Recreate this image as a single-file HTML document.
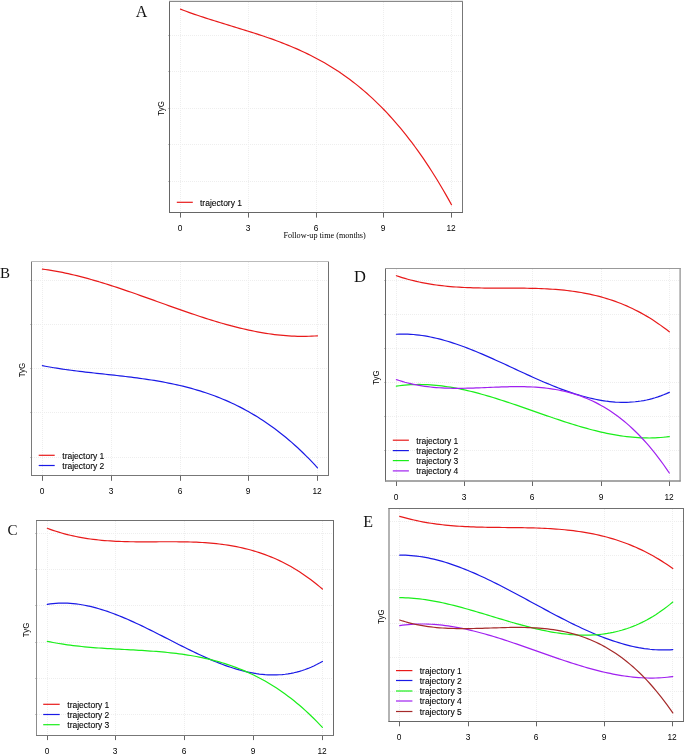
<!DOCTYPE html>
<html><head><meta charset="utf-8"><style>
html,body{margin:0;padding:0;background:#fff;}
body{width:685px;height:755px;overflow:hidden;}
svg{display:block;}
.gr{stroke:#eeeeee;stroke-width:1;stroke-dasharray:1 1;fill:none;}
.ax{stroke:#666;stroke-width:1;}
.yt{stroke:#c4c4c4;stroke-width:1;}
.bx{fill:none;stroke:#666;stroke-width:1;}
.cv{fill:none;stroke-width:1.2;stroke-linecap:round;stroke-linejoin:round;}
.tk{font-family:"Liberation Sans",sans-serif;font-size:8.4px;text-anchor:middle;fill:#000;}
.lg{font-family:"Liberation Sans",sans-serif;font-size:8.5px;fill:#000;stroke:#000;stroke-width:0.1px;}
.ty{font-family:"Liberation Sans",sans-serif;font-size:8px;text-anchor:middle;fill:#000;}
.pl{font-family:"Liberation Serif",serif;fill:#111;}
.xl{font-family:"Liberation Serif",serif;font-size:8.2px;text-anchor:middle;fill:#000;}
</style></head><body>
<svg width="685" height="755" viewBox="0 0 685 755">
<line x1="170" y1="35.5" x2="462" y2="35.5" class="gr"/>
<line x1="168" y1="35.5" x2="169.5" y2="35.5" class="yt"/>
<line x1="170" y1="71.5" x2="462" y2="71.5" class="gr"/>
<line x1="168" y1="71.5" x2="169.5" y2="71.5" class="yt"/>
<line x1="170" y1="108.5" x2="462" y2="108.5" class="gr"/>
<line x1="168" y1="108.5" x2="169.5" y2="108.5" class="yt"/>
<line x1="170" y1="144.5" x2="462" y2="144.5" class="gr"/>
<line x1="168" y1="144.5" x2="169.5" y2="144.5" class="yt"/>
<line x1="170" y1="181.5" x2="462" y2="181.5" class="gr"/>
<line x1="168" y1="181.5" x2="169.5" y2="181.5" class="yt"/>
<line x1="180.5" y1="2" x2="180.5" y2="212" class="gr"/>
<line x1="180.5" y1="212.5" x2="180.5" y2="217.6" class="ax"/>
<line x1="248.5" y1="2" x2="248.5" y2="212" class="gr"/>
<line x1="248.5" y1="212.5" x2="248.5" y2="217.6" class="ax"/>
<line x1="316.5" y1="2" x2="316.5" y2="212" class="gr"/>
<line x1="316.5" y1="212.5" x2="316.5" y2="217.6" class="ax"/>
<line x1="383.5" y1="2" x2="383.5" y2="212" class="gr"/>
<line x1="383.5" y1="212.5" x2="383.5" y2="217.6" class="ax"/>
<line x1="451.5" y1="2" x2="451.5" y2="212" class="gr"/>
<line x1="451.5" y1="212.5" x2="451.5" y2="217.6" class="ax"/>
<path d="M180.5,9.16 L183.32,10.24 L186.15,11.29 L188.97,12.32 L191.79,13.32 L194.61,14.31 L197.44,15.28 L200.26,16.23 L203.08,17.17 L205.91,18.09 L208.73,19 L211.55,19.9 L214.38,20.79 L217.2,21.67 L220.02,22.55 L222.84,23.41 L225.67,24.28 L228.49,25.14 L231.31,26 L234.14,26.86 L236.96,27.72 L239.78,28.59 L242.6,29.45 L245.43,30.33 L248.25,31.21 L251.07,32.1 L253.9,33 L256.72,33.91 L259.54,34.83 L262.36,35.77 L265.19,36.73 L268.01,37.7 L270.83,38.69 L273.66,39.69 L276.48,40.72 L279.3,41.78 L282.12,42.85 L284.95,43.95 L287.77,45.08 L290.59,46.24 L293.42,47.43 L296.24,48.65 L299.06,49.9 L301.89,51.18 L304.71,52.5 L307.53,53.85 L310.35,55.25 L313.18,56.68 L316,58.16 L318.82,59.67 L321.65,61.24 L324.47,62.84 L327.29,64.49 L330.11,66.19 L332.94,67.94 L335.76,69.74 L338.58,71.6 L341.41,73.5 L344.23,75.47 L347.05,77.48 L349.88,79.56 L352.7,81.69 L355.52,83.89 L358.34,86.15 L361.17,88.47 L363.99,90.85 L366.81,93.31 L369.64,95.83 L372.46,98.42 L375.28,101.08 L378.1,103.81 L380.93,106.61 L383.75,109.49 L386.57,112.45 L389.4,115.48 L392.22,118.59 L395.04,121.79 L397.86,125.06 L400.69,128.42 L403.51,131.86 L406.33,135.39 L409.16,139.01 L411.98,142.71 L414.8,146.51 L417.62,150.4 L420.45,154.38 L423.27,158.45 L426.09,162.62 L428.92,166.89 L431.74,171.25 L434.56,175.72 L437.39,180.29 L440.21,184.96 L443.03,189.74 L445.85,194.62 L448.68,199.6 L451.5,204.7" stroke="#E81A1A" class="cv"/>
<line x1="176.8" y1="202.3" x2="192.8" y2="202.3" stroke="#E81A1A" class="cv" style="stroke-linecap:butt"/>
<line x1="169.5" y1="1" x2="169.5" y2="213" stroke="#666" stroke-width="1"/>
<line x1="462.5" y1="1" x2="462.5" y2="213" stroke="#777" stroke-width="1"/>
<line x1="169" y1="1.5" x2="463" y2="1.5" stroke="#8a8a8a" stroke-width="1"/>
<line x1="169" y1="212.5" x2="463" y2="212.5" stroke="#666" stroke-width="1"/>
<line x1="32" y1="280.5" x2="328" y2="280.5" class="gr"/>
<line x1="30" y1="280.5" x2="31.5" y2="280.5" class="yt"/>
<line x1="32" y1="324.5" x2="328" y2="324.5" class="gr"/>
<line x1="30" y1="324.5" x2="31.5" y2="324.5" class="yt"/>
<line x1="32" y1="368.5" x2="328" y2="368.5" class="gr"/>
<line x1="30" y1="368.5" x2="31.5" y2="368.5" class="yt"/>
<line x1="32" y1="412.5" x2="328" y2="412.5" class="gr"/>
<line x1="30" y1="412.5" x2="31.5" y2="412.5" class="yt"/>
<line x1="32" y1="457.5" x2="328" y2="457.5" class="gr"/>
<line x1="30" y1="457.5" x2="31.5" y2="457.5" class="yt"/>
<line x1="42.5" y1="262" x2="42.5" y2="475" class="gr"/>
<line x1="42.5" y1="475.5" x2="42.5" y2="480.8" class="ax"/>
<line x1="111.5" y1="262" x2="111.5" y2="475" class="gr"/>
<line x1="111.5" y1="475.5" x2="111.5" y2="480.8" class="ax"/>
<line x1="180.5" y1="262" x2="180.5" y2="475" class="gr"/>
<line x1="180.5" y1="475.5" x2="180.5" y2="480.8" class="ax"/>
<line x1="248.5" y1="262" x2="248.5" y2="475" class="gr"/>
<line x1="248.5" y1="475.5" x2="248.5" y2="480.8" class="ax"/>
<line x1="317.5" y1="262" x2="317.5" y2="475" class="gr"/>
<line x1="317.5" y1="475.5" x2="317.5" y2="480.8" class="ax"/>
<path d="M42.4,269.09 L45.27,269.48 L48.13,269.9 L51,270.35 L53.86,270.84 L56.73,271.35 L59.59,271.89 L62.46,272.46 L65.33,273.05 L68.19,273.67 L71.06,274.32 L73.92,274.99 L76.79,275.69 L79.65,276.4 L82.52,277.14 L85.38,277.9 L88.25,278.68 L91.12,279.48 L93.98,280.3 L96.85,281.14 L99.71,282 L102.58,282.87 L105.44,283.75 L108.31,284.66 L111.18,285.57 L114.04,286.5 L116.91,287.44 L119.77,288.39 L122.64,289.35 L125.5,290.33 L128.37,291.31 L131.23,292.3 L134.1,293.3 L136.97,294.3 L139.83,295.31 L142.7,296.33 L145.56,297.35 L148.43,298.37 L151.29,299.4 L154.16,300.42 L157.03,301.45 L159.89,302.48 L162.76,303.51 L165.62,304.54 L168.49,305.56 L171.35,306.58 L174.22,307.6 L177.08,308.61 L179.95,309.62 L182.82,310.62 L185.68,311.62 L188.55,312.6 L191.41,313.58 L194.28,314.55 L197.14,315.51 L200.01,316.46 L202.88,317.39 L205.74,318.31 L208.61,319.22 L211.47,320.12 L214.34,321 L217.2,321.86 L220.07,322.71 L222.93,323.54 L225.8,324.35 L228.67,325.14 L231.53,325.91 L234.4,326.66 L237.26,327.39 L240.13,328.1 L242.99,328.78 L245.86,329.44 L248.73,330.08 L251.59,330.69 L254.46,331.27 L257.32,331.83 L260.19,332.36 L263.05,332.85 L265.92,333.32 L268.78,333.76 L271.65,334.17 L274.52,334.55 L277.38,334.89 L280.25,335.2 L283.11,335.47 L285.98,335.71 L288.84,335.92 L291.71,336.08 L294.58,336.21 L297.44,336.3 L300.31,336.35 L303.17,336.36 L306.04,336.33 L308.9,336.26 L311.77,336.14 L314.63,335.99 L317.5,335.78" stroke="#E81A1A" class="cv"/>
<path d="M42.4,365.71 L45.27,366.25 L48.13,366.77 L51,367.26 L53.86,367.74 L56.73,368.2 L59.59,368.64 L62.46,369.07 L65.33,369.48 L68.19,369.88 L71.06,370.26 L73.92,370.64 L76.79,371 L79.65,371.35 L82.52,371.7 L85.38,372.03 L88.25,372.36 L91.12,372.69 L93.98,373.01 L96.85,373.32 L99.71,373.64 L102.58,373.95 L105.44,374.26 L108.31,374.57 L111.18,374.88 L114.04,375.2 L116.91,375.52 L119.77,375.84 L122.64,376.17 L125.5,376.51 L128.37,376.85 L131.23,377.21 L134.1,377.57 L136.97,377.94 L139.83,378.33 L142.7,378.72 L145.56,379.14 L148.43,379.56 L151.29,380 L154.16,380.46 L157.03,380.94 L159.89,381.43 L162.76,381.95 L165.62,382.49 L168.49,383.05 L171.35,383.63 L174.22,384.23 L177.08,384.86 L179.95,385.52 L182.82,386.2 L185.68,386.92 L188.55,387.66 L191.41,388.43 L194.28,389.23 L197.14,390.07 L200.01,390.94 L202.88,391.84 L205.74,392.78 L208.61,393.75 L211.47,394.76 L214.34,395.81 L217.2,396.9 L220.07,398.03 L222.93,399.2 L225.8,400.42 L228.67,401.67 L231.53,402.98 L234.4,404.32 L237.26,405.72 L240.13,407.16 L242.99,408.65 L245.86,410.19 L248.73,411.78 L251.59,413.42 L254.46,415.12 L257.32,416.86 L260.19,418.67 L263.05,420.53 L265.92,422.44 L268.78,424.42 L271.65,426.45 L274.52,428.54 L277.38,430.69 L280.25,432.91 L283.11,435.19 L285.98,437.53 L288.84,439.94 L291.71,442.41 L294.58,444.95 L297.44,447.56 L300.31,450.24 L303.17,452.99 L306.04,455.81 L308.9,458.7 L311.77,461.66 L314.63,464.7 L317.5,467.81" stroke="#1A1AE6" class="cv"/>
<line x1="38.7" y1="455.3" x2="54.7" y2="455.3" stroke="#E81A1A" class="cv" style="stroke-linecap:butt"/>
<line x1="38.7" y1="465.5" x2="54.7" y2="465.5" stroke="#1A1AE6" class="cv" style="stroke-linecap:butt"/>
<line x1="31.5" y1="261" x2="31.5" y2="476" stroke="#7a7a7a" stroke-width="1"/>
<line x1="328.5" y1="261" x2="328.5" y2="476" stroke="#707070" stroke-width="1"/>
<line x1="31" y1="261.5" x2="329" y2="261.5" stroke="#bbb" stroke-width="1"/>
<line x1="31" y1="475.5" x2="329" y2="475.5" stroke="#777" stroke-width="1"/>
<line x1="37" y1="533.5" x2="333" y2="533.5" class="gr"/>
<line x1="35" y1="533.5" x2="36.5" y2="533.5" class="yt"/>
<line x1="37" y1="569.5" x2="333" y2="569.5" class="gr"/>
<line x1="35" y1="569.5" x2="36.5" y2="569.5" class="yt"/>
<line x1="37" y1="605.5" x2="333" y2="605.5" class="gr"/>
<line x1="35" y1="605.5" x2="36.5" y2="605.5" class="yt"/>
<line x1="37" y1="642.5" x2="333" y2="642.5" class="gr"/>
<line x1="35" y1="642.5" x2="36.5" y2="642.5" class="yt"/>
<line x1="37" y1="678.5" x2="333" y2="678.5" class="gr"/>
<line x1="35" y1="678.5" x2="36.5" y2="678.5" class="yt"/>
<line x1="37" y1="714.5" x2="333" y2="714.5" class="gr"/>
<line x1="35" y1="714.5" x2="36.5" y2="714.5" class="yt"/>
<line x1="47.5" y1="521" x2="47.5" y2="735" class="gr"/>
<line x1="47.5" y1="735.5" x2="47.5" y2="740.1" class="ax"/>
<line x1="115.5" y1="521" x2="115.5" y2="735" class="gr"/>
<line x1="115.5" y1="735.5" x2="115.5" y2="740.1" class="ax"/>
<line x1="184.5" y1="521" x2="184.5" y2="735" class="gr"/>
<line x1="184.5" y1="735.5" x2="184.5" y2="740.1" class="ax"/>
<line x1="253.5" y1="521" x2="253.5" y2="735" class="gr"/>
<line x1="253.5" y1="735.5" x2="253.5" y2="740.1" class="ax"/>
<line x1="322.5" y1="521" x2="322.5" y2="735" class="gr"/>
<line x1="322.5" y1="735.5" x2="322.5" y2="740.1" class="ax"/>
<path d="M47.3,528.27 L50.17,529.33 L53.03,530.33 L55.9,531.29 L58.76,532.18 L61.63,533.03 L64.49,533.82 L67.36,534.57 L70.22,535.27 L73.09,535.92 L75.96,536.53 L78.82,537.1 L81.69,537.63 L84.55,538.11 L87.42,538.56 L90.28,538.97 L93.15,539.35 L96.02,539.69 L98.88,540 L101.75,540.28 L104.61,540.53 L107.48,540.76 L110.34,540.95 L113.21,541.13 L116.07,541.28 L118.94,541.4 L121.81,541.51 L124.67,541.6 L127.54,541.67 L130.4,541.73 L133.27,541.77 L136.13,541.8 L139,541.82 L141.87,541.83 L144.73,541.83 L147.6,541.83 L150.46,541.82 L153.33,541.81 L156.19,541.79 L159.06,541.77 L161.92,541.76 L164.79,541.75 L167.66,541.74 L170.52,541.74 L173.39,541.74 L176.25,541.75 L179.12,541.78 L181.98,541.81 L184.85,541.86 L187.72,541.92 L190.58,542 L193.45,542.1 L196.31,542.21 L199.18,542.35 L202.04,542.51 L204.91,542.69 L207.77,542.89 L210.64,543.13 L213.51,543.39 L216.37,543.68 L219.24,544 L222.1,544.36 L224.97,544.75 L227.83,545.17 L230.7,545.63 L233.57,546.14 L236.43,546.68 L239.3,547.26 L242.16,547.89 L245.03,548.56 L247.89,549.27 L250.76,550.04 L253.62,550.85 L256.49,551.72 L259.36,552.63 L262.22,553.6 L265.09,554.63 L267.95,555.71 L270.82,556.85 L273.68,558.06 L276.55,559.32 L279.42,560.64 L282.28,562.03 L285.15,563.49 L288.01,565.01 L290.88,566.6 L293.74,568.26 L296.61,570 L299.47,571.8 L302.34,573.69 L305.21,575.64 L308.07,577.68 L310.94,579.8 L313.8,581.99 L316.67,584.27 L319.53,586.63 L322.4,589.08" stroke="#E81A1A" class="cv"/>
<path d="M47.3,604.3 L50.17,603.89 L53.03,603.56 L55.9,603.32 L58.76,603.17 L61.63,603.09 L64.49,603.1 L67.36,603.19 L70.22,603.36 L73.09,603.59 L75.96,603.9 L78.82,604.28 L81.69,604.73 L84.55,605.24 L87.42,605.82 L90.28,606.46 L93.15,607.15 L96.02,607.91 L98.88,608.71 L101.75,609.57 L104.61,610.48 L107.48,611.44 L110.34,612.45 L113.21,613.49 L116.07,614.58 L118.94,615.71 L121.81,616.88 L124.67,618.08 L127.54,619.31 L130.4,620.58 L133.27,621.87 L136.13,623.19 L139,624.54 L141.87,625.9 L144.73,627.29 L147.6,628.69 L150.46,630.11 L153.33,631.54 L156.19,632.98 L159.06,634.44 L161.92,635.9 L164.79,637.36 L167.66,638.83 L170.52,640.29 L173.39,641.76 L176.25,643.22 L179.12,644.67 L181.98,646.12 L184.85,647.55 L187.72,648.97 L190.58,650.38 L193.45,651.77 L196.31,653.14 L199.18,654.49 L202.04,655.82 L204.91,657.12 L207.77,658.39 L210.64,659.63 L213.51,660.84 L216.37,662.02 L219.24,663.16 L222.1,664.26 L224.97,665.32 L227.83,666.33 L230.7,667.3 L233.57,668.23 L236.43,669.1 L239.3,669.92 L242.16,670.69 L245.03,671.4 L247.89,672.05 L250.76,672.64 L253.62,673.17 L256.49,673.64 L259.36,674.04 L262.22,674.36 L265.09,674.62 L267.95,674.81 L270.82,674.91 L273.68,674.94 L276.55,674.89 L279.42,674.76 L282.28,674.54 L285.15,674.24 L288.01,673.85 L290.88,673.36 L293.74,672.79 L296.61,672.12 L299.47,671.35 L302.34,670.48 L305.21,669.51 L308.07,668.43 L310.94,667.25 L313.8,665.96 L316.67,664.56 L319.53,663.05 L322.4,661.42" stroke="#1A1AE6" class="cv"/>
<path d="M47.3,641.35 L50.17,641.93 L53.03,642.49 L55.9,643.01 L58.76,643.5 L61.63,643.96 L64.49,644.4 L67.36,644.81 L70.22,645.2 L73.09,645.56 L75.96,645.9 L78.82,646.22 L81.69,646.52 L84.55,646.81 L87.42,647.07 L90.28,647.32 L93.15,647.55 L96.02,647.78 L98.88,647.98 L101.75,648.18 L104.61,648.37 L107.48,648.55 L110.34,648.72 L113.21,648.88 L116.07,649.05 L118.94,649.2 L121.81,649.36 L124.67,649.51 L127.54,649.66 L130.4,649.82 L133.27,649.97 L136.13,650.13 L139,650.3 L141.87,650.47 L144.73,650.65 L147.6,650.84 L150.46,651.04 L153.33,651.24 L156.19,651.47 L159.06,651.7 L161.92,651.95 L164.79,652.21 L167.66,652.5 L170.52,652.8 L173.39,653.12 L176.25,653.46 L179.12,653.82 L181.98,654.21 L184.85,654.62 L187.72,655.06 L190.58,655.52 L193.45,656.01 L196.31,656.53 L199.18,657.09 L202.04,657.67 L204.91,658.29 L207.77,658.94 L210.64,659.63 L213.51,660.35 L216.37,661.12 L219.24,661.92 L222.1,662.76 L224.97,663.64 L227.83,664.57 L230.7,665.54 L233.57,666.56 L236.43,667.62 L239.3,668.74 L242.16,669.9 L245.03,671.11 L247.89,672.37 L250.76,673.68 L253.62,675.05 L256.49,676.48 L259.36,677.96 L262.22,679.5 L265.09,681.1 L267.95,682.76 L270.82,684.47 L273.68,686.26 L276.55,688.1 L279.42,690.01 L282.28,691.99 L285.15,694.04 L288.01,696.15 L290.88,698.34 L293.74,700.59 L296.61,702.92 L299.47,705.32 L302.34,707.8 L305.21,710.35 L308.07,712.98 L310.94,715.69 L313.8,718.48 L316.67,721.34 L319.53,724.3 L322.4,727.33" stroke="#1AEE1A" class="cv"/>
<line x1="43.2" y1="704.3" x2="59.7" y2="704.3" stroke="#E81A1A" class="cv" style="stroke-linecap:butt"/>
<line x1="43.2" y1="714.5" x2="59.7" y2="714.5" stroke="#1A1AE6" class="cv" style="stroke-linecap:butt"/>
<line x1="43.2" y1="724.7" x2="59.7" y2="724.7" stroke="#1AEE1A" class="cv" style="stroke-linecap:butt"/>
<line x1="36.5" y1="520" x2="36.5" y2="736" stroke="#8c8c8c" stroke-width="1"/>
<line x1="333.5" y1="520" x2="333.5" y2="736" stroke="#6a6a6a" stroke-width="1"/>
<line x1="36" y1="520.5" x2="334" y2="520.5" stroke="#707070" stroke-width="1"/>
<line x1="36" y1="735.5" x2="334" y2="735.5" stroke="#777" stroke-width="1"/>
<line x1="386" y1="280.5" x2="680" y2="280.5" class="gr"/>
<line x1="384" y1="280.5" x2="385.5" y2="280.5" class="yt"/>
<line x1="386" y1="314.5" x2="680" y2="314.5" class="gr"/>
<line x1="384" y1="314.5" x2="385.5" y2="314.5" class="yt"/>
<line x1="386" y1="348.5" x2="680" y2="348.5" class="gr"/>
<line x1="384" y1="348.5" x2="385.5" y2="348.5" class="yt"/>
<line x1="386" y1="382.5" x2="680" y2="382.5" class="gr"/>
<line x1="384" y1="382.5" x2="385.5" y2="382.5" class="yt"/>
<line x1="386" y1="416.5" x2="680" y2="416.5" class="gr"/>
<line x1="384" y1="416.5" x2="385.5" y2="416.5" class="yt"/>
<line x1="386" y1="450.5" x2="680" y2="450.5" class="gr"/>
<line x1="384" y1="450.5" x2="385.5" y2="450.5" class="yt"/>
<line x1="396.5" y1="269" x2="396.5" y2="480" class="gr"/>
<line x1="396.5" y1="481" x2="396.5" y2="486" class="ax"/>
<line x1="464.5" y1="269" x2="464.5" y2="480" class="gr"/>
<line x1="464.5" y1="481" x2="464.5" y2="486" class="ax"/>
<line x1="532.5" y1="269" x2="532.5" y2="480" class="gr"/>
<line x1="532.5" y1="481" x2="532.5" y2="486" class="ax"/>
<line x1="601.5" y1="269" x2="601.5" y2="480" class="gr"/>
<line x1="601.5" y1="481" x2="601.5" y2="486" class="ax"/>
<line x1="669.5" y1="269" x2="669.5" y2="480" class="gr"/>
<line x1="669.5" y1="481" x2="669.5" y2="486" class="ax"/>
<path d="M396.4,275.71 L399.24,276.66 L402.09,277.56 L404.93,278.42 L407.77,279.22 L410.61,279.98 L413.46,280.7 L416.3,281.37 L419.14,282 L421.98,282.59 L424.83,283.14 L427.67,283.65 L430.51,284.13 L433.36,284.57 L436.2,284.97 L439.04,285.35 L441.88,285.69 L444.73,286.01 L447.57,286.29 L450.41,286.55 L453.25,286.78 L456.1,286.99 L458.94,287.18 L461.78,287.34 L464.62,287.49 L467.47,287.61 L470.31,287.72 L473.15,287.81 L476,287.89 L478.84,287.95 L481.68,288 L484.52,288.04 L487.37,288.07 L490.21,288.09 L493.05,288.1 L495.89,288.11 L498.74,288.12 L501.58,288.12 L504.42,288.12 L507.27,288.12 L510.11,288.13 L512.95,288.13 L515.79,288.14 L518.64,288.15 L521.48,288.17 L524.32,288.2 L527.16,288.24 L530.01,288.29 L532.85,288.35 L535.69,288.43 L538.54,288.51 L541.38,288.62 L544.22,288.74 L547.06,288.88 L549.91,289.04 L552.75,289.23 L555.59,289.43 L558.43,289.66 L561.28,289.92 L564.12,290.2 L566.96,290.51 L569.81,290.85 L572.65,291.22 L575.49,291.62 L578.33,292.06 L581.18,292.53 L584.02,293.04 L586.86,293.58 L589.7,294.17 L592.55,294.79 L595.39,295.46 L598.23,296.17 L601.07,296.92 L603.92,297.72 L606.76,298.57 L609.6,299.46 L612.45,300.41 L615.29,301.4 L618.13,302.45 L620.97,303.55 L623.82,304.71 L626.66,305.92 L629.5,307.19 L632.34,308.52 L635.19,309.92 L638.03,311.37 L640.87,312.88 L643.72,314.46 L646.56,316.11 L649.4,317.82 L652.24,319.61 L655.09,321.46 L657.93,323.38 L660.77,325.38 L663.61,327.45 L666.46,329.59 L669.3,331.82" stroke="#E81A1A" class="cv"/>
<path d="M396.4,334.26 L399.24,334.13 L402.09,334.07 L404.93,334.08 L407.77,334.16 L410.61,334.3 L413.46,334.51 L416.3,334.78 L419.14,335.11 L421.98,335.49 L424.83,335.93 L427.67,336.43 L430.51,336.98 L433.36,337.58 L436.2,338.23 L439.04,338.93 L441.88,339.67 L444.73,340.46 L447.57,341.29 L450.41,342.16 L453.25,343.07 L456.1,344.02 L458.94,345 L461.78,346.01 L464.62,347.06 L467.47,348.14 L470.31,349.24 L473.15,350.38 L476,351.53 L478.84,352.71 L481.68,353.91 L484.52,355.13 L487.37,356.37 L490.21,357.63 L493.05,358.9 L495.89,360.18 L498.74,361.47 L501.58,362.77 L504.42,364.08 L507.27,365.39 L510.11,366.71 L512.95,368.03 L515.79,369.35 L518.64,370.67 L521.48,371.98 L524.32,373.29 L527.16,374.6 L530.01,375.89 L532.85,377.18 L535.69,378.45 L538.54,379.71 L541.38,380.95 L544.22,382.18 L547.06,383.38 L549.91,384.57 L552.75,385.73 L555.59,386.87 L558.43,387.99 L561.28,389.07 L564.12,390.13 L566.96,391.15 L569.81,392.14 L572.65,393.1 L575.49,394.02 L578.33,394.9 L581.18,395.74 L584.02,396.54 L586.86,397.29 L589.7,398 L592.55,398.67 L595.39,399.28 L598.23,399.85 L601.07,400.36 L603.92,400.81 L606.76,401.22 L609.6,401.56 L612.45,401.84 L615.29,402.07 L618.13,402.23 L620.97,402.32 L623.82,402.35 L626.66,402.31 L629.5,402.2 L632.34,402.02 L635.19,401.77 L638.03,401.44 L640.87,401.03 L643.72,400.55 L646.56,399.98 L649.4,399.33 L652.24,398.6 L655.09,397.78 L657.93,396.88 L660.77,395.88 L663.61,394.8 L666.46,393.62 L669.3,392.35" stroke="#1A1AE6" class="cv"/>
<path d="M396.4,386.17 L399.24,385.77 L402.09,385.42 L404.93,385.12 L407.77,384.89 L410.61,384.71 L413.46,384.58 L416.3,384.5 L419.14,384.47 L421.98,384.5 L424.83,384.57 L427.67,384.68 L430.51,384.85 L433.36,385.06 L436.2,385.31 L439.04,385.6 L441.88,385.93 L444.73,386.31 L447.57,386.72 L450.41,387.17 L453.25,387.65 L456.1,388.17 L458.94,388.73 L461.78,389.31 L464.62,389.93 L467.47,390.58 L470.31,391.25 L473.15,391.95 L476,392.68 L478.84,393.44 L481.68,394.21 L484.52,395.01 L487.37,395.83 L490.21,396.68 L493.05,397.54 L495.89,398.41 L498.74,399.31 L501.58,400.22 L504.42,401.14 L507.27,402.07 L510.11,403.02 L512.95,403.98 L515.79,404.94 L518.64,405.92 L521.48,406.9 L524.32,407.88 L527.16,408.87 L530.01,409.87 L532.85,410.86 L535.69,411.86 L538.54,412.85 L541.38,413.84 L544.22,414.83 L547.06,415.82 L549.91,416.8 L552.75,417.77 L555.59,418.73 L558.43,419.69 L561.28,420.63 L564.12,421.56 L566.96,422.48 L569.81,423.39 L572.65,424.28 L575.49,425.15 L578.33,426 L581.18,426.84 L584.02,427.66 L586.86,428.45 L589.7,429.22 L592.55,429.97 L595.39,430.69 L598.23,431.39 L601.07,432.05 L603.92,432.69 L606.76,433.3 L609.6,433.88 L612.45,434.42 L615.29,434.93 L618.13,435.41 L620.97,435.85 L623.82,436.25 L626.66,436.62 L629.5,436.94 L632.34,437.22 L635.19,437.46 L638.03,437.66 L640.87,437.81 L643.72,437.92 L646.56,437.97 L649.4,437.98 L652.24,437.94 L655.09,437.85 L657.93,437.71 L660.77,437.51 L663.61,437.26 L666.46,436.96 L669.3,436.59" stroke="#1AEE1A" class="cv"/>
<path d="M396.4,379.59 L399.24,380.53 L402.09,381.41 L404.93,382.23 L407.77,382.98 L410.61,383.67 L413.46,384.31 L416.3,384.89 L419.14,385.41 L421.98,385.89 L424.83,386.31 L427.67,386.69 L430.51,387.02 L433.36,387.31 L436.2,387.56 L439.04,387.77 L441.88,387.94 L444.73,388.08 L447.57,388.19 L450.41,388.26 L453.25,388.31 L456.1,388.34 L458.94,388.34 L461.78,388.31 L464.62,388.27 L467.47,388.21 L470.31,388.14 L473.15,388.05 L476,387.95 L478.84,387.85 L481.68,387.73 L484.52,387.62 L487.37,387.5 L490.21,387.38 L493.05,387.26 L495.89,387.15 L498.74,387.04 L501.58,386.94 L504.42,386.85 L507.27,386.78 L510.11,386.71 L512.95,386.67 L515.79,386.65 L518.64,386.64 L521.48,386.66 L524.32,386.71 L527.16,386.78 L530.01,386.88 L532.85,387.02 L535.69,387.19 L538.54,387.39 L541.38,387.64 L544.22,387.92 L547.06,388.25 L549.91,388.62 L552.75,389.04 L555.59,389.51 L558.43,390.02 L561.28,390.6 L564.12,391.22 L566.96,391.91 L569.81,392.65 L572.65,393.46 L575.49,394.33 L578.33,395.27 L581.18,396.27 L584.02,397.35 L586.86,398.5 L589.7,399.72 L592.55,401.02 L595.39,402.4 L598.23,403.86 L601.07,405.41 L603.92,407.03 L606.76,408.75 L609.6,410.56 L612.45,412.46 L615.29,414.45 L618.13,416.54 L620.97,418.72 L623.82,421.01 L626.66,423.4 L629.5,425.89 L632.34,428.5 L635.19,431.21 L638.03,434.03 L640.87,436.96 L643.72,440.01 L646.56,443.18 L649.4,446.46 L652.24,449.87 L655.09,453.41 L657.93,457.07 L660.77,460.85 L663.61,464.77 L666.46,468.82 L669.3,473" stroke="#A020F0" class="cv"/>
<line x1="392.8" y1="440.2" x2="408.9" y2="440.2" stroke="#E81A1A" class="cv" style="stroke-linecap:butt"/>
<line x1="392.8" y1="450.6" x2="408.9" y2="450.6" stroke="#1A1AE6" class="cv" style="stroke-linecap:butt"/>
<line x1="392.8" y1="460.6" x2="408.9" y2="460.6" stroke="#1AEE1A" class="cv" style="stroke-linecap:butt"/>
<line x1="392.8" y1="470.9" x2="408.9" y2="470.9" stroke="#A020F0" class="cv" style="stroke-linecap:butt"/>
<line x1="385.5" y1="268" x2="385.5" y2="481.5" stroke="#666" stroke-width="1"/>
<line x1="680.1" y1="268" x2="680.1" y2="481.5" stroke="#8a8a8a" stroke-width="1.2"/>
<line x1="385" y1="268.5" x2="680.6" y2="268.5" stroke="#999" stroke-width="1"/>
<line x1="385" y1="481" x2="680.6" y2="481" stroke="#8a8a8a" stroke-width="1.3"/>
<line x1="390" y1="521.5" x2="683" y2="521.5" class="gr"/>
<line x1="390" y1="555.5" x2="683" y2="555.5" class="gr"/>
<line x1="390" y1="589.5" x2="683" y2="589.5" class="gr"/>
<line x1="390" y1="623.5" x2="683" y2="623.5" class="gr"/>
<line x1="390" y1="657.5" x2="683" y2="657.5" class="gr"/>
<line x1="390" y1="691.5" x2="683" y2="691.5" class="gr"/>
<line x1="399.5" y1="509" x2="399.5" y2="721" class="gr"/>
<line x1="399.5" y1="721.5" x2="399.5" y2="726.3" class="ax"/>
<line x1="468.5" y1="509" x2="468.5" y2="721" class="gr"/>
<line x1="468.5" y1="721.5" x2="468.5" y2="726.3" class="ax"/>
<line x1="536.5" y1="509" x2="536.5" y2="721" class="gr"/>
<line x1="536.5" y1="721.5" x2="536.5" y2="726.3" class="ax"/>
<line x1="604.5" y1="509" x2="604.5" y2="721" class="gr"/>
<line x1="604.5" y1="721.5" x2="604.5" y2="726.3" class="ax"/>
<line x1="672.5" y1="509" x2="672.5" y2="721" class="gr"/>
<line x1="672.5" y1="721.5" x2="672.5" y2="726.3" class="ax"/>
<path d="M399.7,516.32 L402.54,517.14 L405.39,517.93 L408.23,518.67 L411.08,519.37 L413.92,520.03 L416.77,520.65 L419.61,521.24 L422.46,521.79 L425.3,522.31 L428.15,522.79 L430.99,523.24 L433.84,523.66 L436.68,524.05 L439.53,524.41 L442.37,524.74 L445.22,525.05 L448.06,525.33 L450.91,525.59 L453.75,525.83 L456.6,526.04 L459.44,526.23 L462.29,526.41 L465.13,526.56 L467.97,526.7 L470.82,526.83 L473.66,526.93 L476.51,527.03 L479.35,527.11 L482.2,527.19 L485.04,527.25 L487.89,527.3 L490.73,527.35 L493.58,527.39 L496.42,527.42 L499.27,527.45 L502.11,527.48 L504.96,527.5 L507.8,527.53 L510.65,527.56 L513.49,527.58 L516.34,527.62 L519.18,527.65 L522.03,527.69 L524.87,527.74 L527.72,527.8 L530.56,527.86 L533.41,527.93 L536.25,528.02 L539.09,528.12 L541.94,528.23 L544.78,528.36 L547.63,528.5 L550.47,528.66 L553.32,528.84 L556.16,529.04 L559.01,529.26 L561.85,529.5 L564.7,529.76 L567.54,530.05 L570.39,530.36 L573.23,530.7 L576.08,531.07 L578.92,531.47 L581.77,531.89 L584.61,532.35 L587.46,532.84 L590.3,533.37 L593.15,533.93 L595.99,534.52 L598.84,535.16 L601.68,535.83 L604.52,536.54 L607.37,537.29 L610.21,538.08 L613.06,538.92 L615.9,539.8 L618.75,540.72 L621.59,541.7 L624.44,542.72 L627.28,543.79 L630.13,544.91 L632.97,546.08 L635.82,547.3 L638.66,548.58 L641.51,549.91 L644.35,551.3 L647.2,552.74 L650.04,554.25 L652.89,555.81 L655.73,557.43 L658.58,559.12 L661.42,560.87 L664.27,562.68 L667.11,564.56 L669.96,566.51 L672.8,568.52" stroke="#E81A1A" class="cv"/>
<path d="M399.7,555.15 L402.54,555.15 L405.39,555.21 L408.23,555.34 L411.08,555.54 L413.92,555.79 L416.77,556.11 L419.61,556.49 L422.46,556.92 L425.3,557.41 L428.15,557.95 L430.99,558.55 L433.84,559.2 L436.68,559.9 L439.53,560.65 L442.37,561.44 L445.22,562.28 L448.06,563.17 L450.91,564.1 L453.75,565.07 L456.6,566.08 L459.44,567.13 L462.29,568.22 L465.13,569.34 L467.97,570.49 L470.82,571.68 L473.66,572.9 L476.51,574.15 L479.35,575.43 L482.2,576.74 L485.04,578.07 L487.89,579.43 L490.73,580.81 L493.58,582.2 L496.42,583.62 L499.27,585.06 L502.11,586.52 L504.96,587.99 L507.8,589.47 L510.65,590.97 L513.49,592.47 L516.34,593.99 L519.18,595.51 L522.03,597.05 L524.87,598.58 L527.72,600.12 L530.56,601.67 L533.41,603.21 L536.25,604.75 L539.09,606.29 L541.94,607.83 L544.78,609.36 L547.63,610.89 L550.47,612.41 L553.32,613.92 L556.16,615.41 L559.01,616.9 L561.85,618.37 L564.7,619.83 L567.54,621.27 L570.39,622.69 L573.23,624.09 L576.08,625.47 L578.92,626.83 L581.77,628.17 L584.61,629.48 L587.46,630.76 L590.3,632.02 L593.15,633.24 L595.99,634.44 L598.84,635.6 L601.68,636.72 L604.52,637.82 L607.37,638.87 L610.21,639.89 L613.06,640.86 L615.9,641.8 L618.75,642.69 L621.59,643.54 L624.44,644.34 L627.28,645.1 L630.13,645.8 L632.97,646.46 L635.82,647.06 L638.66,647.62 L641.51,648.11 L644.35,648.56 L647.2,648.94 L650.04,649.27 L652.89,649.53 L655.73,649.73 L658.58,649.88 L661.42,649.95 L664.27,649.96 L667.11,649.9 L669.96,649.78 L672.8,649.58" stroke="#1A1AE6" class="cv"/>
<path d="M399.7,597.68 L402.54,597.71 L405.39,597.8 L408.23,597.93 L411.08,598.11 L413.92,598.33 L416.77,598.6 L419.61,598.92 L422.46,599.27 L425.3,599.67 L428.15,600.1 L430.99,600.57 L433.84,601.08 L436.68,601.61 L439.53,602.18 L442.37,602.78 L445.22,603.41 L448.06,604.06 L450.91,604.74 L453.75,605.45 L456.6,606.17 L459.44,606.92 L462.29,607.68 L465.13,608.46 L467.97,609.26 L470.82,610.07 L473.66,610.89 L476.51,611.73 L479.35,612.57 L482.2,613.42 L485.04,614.28 L487.89,615.13 L490.73,616 L493.58,616.86 L496.42,617.72 L499.27,618.58 L502.11,619.44 L504.96,620.29 L507.8,621.13 L510.65,621.96 L513.49,622.79 L516.34,623.6 L519.18,624.39 L522.03,625.18 L524.87,625.94 L527.72,626.69 L530.56,627.41 L533.41,628.12 L536.25,628.8 L539.09,629.45 L541.94,630.08 L544.78,630.68 L547.63,631.25 L550.47,631.79 L553.32,632.3 L556.16,632.77 L559.01,633.2 L561.85,633.6 L564.7,633.95 L567.54,634.27 L570.39,634.54 L573.23,634.77 L576.08,634.95 L578.92,635.08 L581.77,635.17 L584.61,635.2 L587.46,635.18 L590.3,635.1 L593.15,634.97 L595.99,634.79 L598.84,634.54 L601.68,634.23 L604.52,633.86 L607.37,633.43 L610.21,632.93 L613.06,632.36 L615.9,631.72 L618.75,631.02 L621.59,630.24 L624.44,629.38 L627.28,628.46 L630.13,627.45 L632.97,626.37 L635.82,625.2 L638.66,623.96 L641.51,622.63 L644.35,621.21 L647.2,619.71 L650.04,618.12 L652.89,616.44 L655.73,614.67 L658.58,612.8 L661.42,610.84 L664.27,608.79 L667.11,606.63 L669.96,604.38 L672.8,602.02" stroke="#1AEE1A" class="cv"/>
<path d="M399.7,625.59 L402.54,625.19 L405.39,624.85 L408.23,624.57 L411.08,624.35 L413.92,624.18 L416.77,624.06 L419.61,624 L422.46,623.98 L425.3,624.02 L428.15,624.1 L430.99,624.23 L433.84,624.41 L436.68,624.63 L439.53,624.89 L442.37,625.2 L445.22,625.55 L448.06,625.93 L450.91,626.36 L453.75,626.82 L456.6,627.32 L459.44,627.86 L462.29,628.42 L465.13,629.02 L467.97,629.65 L470.82,630.31 L473.66,631 L476.51,631.72 L479.35,632.46 L482.2,633.23 L485.04,634.02 L487.89,634.83 L490.73,635.67 L493.58,636.52 L496.42,637.4 L499.27,638.29 L502.11,639.19 L504.96,640.11 L507.8,641.05 L510.65,642 L513.49,642.96 L516.34,643.93 L519.18,644.9 L522.03,645.89 L524.87,646.88 L527.72,647.88 L530.56,648.88 L533.41,649.88 L536.25,650.89 L539.09,651.89 L541.94,652.9 L544.78,653.9 L547.63,654.9 L550.47,655.89 L553.32,656.88 L556.16,657.86 L559.01,658.83 L561.85,659.79 L564.7,660.74 L567.54,661.68 L570.39,662.61 L573.23,663.52 L576.08,664.41 L578.92,665.29 L581.77,666.15 L584.61,666.99 L587.46,667.81 L590.3,668.61 L593.15,669.38 L595.99,670.13 L598.84,670.85 L601.68,671.55 L604.52,672.22 L607.37,672.85 L610.21,673.46 L613.06,674.04 L615.9,674.58 L618.75,675.09 L621.59,675.56 L624.44,675.99 L627.28,676.39 L630.13,676.75 L632.97,677.07 L635.82,677.34 L638.66,677.57 L641.51,677.76 L644.35,677.9 L647.2,678 L650.04,678.05 L652.89,678.04 L655.73,677.99 L658.58,677.89 L661.42,677.73 L664.27,677.52 L667.11,677.25 L669.96,676.93 L672.8,676.55" stroke="#A020F0" class="cv"/>
<path d="M399.7,620.04 L402.54,620.95 L405.39,621.79 L408.23,622.58 L411.08,623.31 L413.92,623.98 L416.77,624.59 L419.61,625.15 L422.46,625.67 L425.3,626.13 L428.15,626.54 L430.99,626.91 L433.84,627.24 L436.68,627.53 L439.53,627.78 L442.37,627.99 L445.22,628.17 L448.06,628.31 L450.91,628.43 L453.75,628.51 L456.6,628.57 L459.44,628.61 L462.29,628.62 L465.13,628.62 L467.97,628.59 L470.82,628.55 L473.66,628.5 L476.51,628.44 L479.35,628.36 L482.2,628.28 L485.04,628.19 L487.89,628.1 L490.73,628 L493.58,627.91 L496.42,627.82 L499.27,627.73 L502.11,627.65 L504.96,627.58 L507.8,627.52 L510.65,627.47 L513.49,627.44 L516.34,627.43 L519.18,627.43 L522.03,627.45 L524.87,627.5 L527.72,627.58 L530.56,627.68 L533.41,627.81 L536.25,627.97 L539.09,628.16 L541.94,628.39 L544.78,628.66 L547.63,628.97 L550.47,629.32 L553.32,629.71 L556.16,630.15 L559.01,630.63 L561.85,631.17 L564.7,631.76 L567.54,632.4 L570.39,633.1 L573.23,633.85 L576.08,634.67 L578.92,635.55 L581.77,636.49 L584.61,637.5 L587.46,638.58 L590.3,639.73 L593.15,640.95 L595.99,642.25 L598.84,643.62 L601.68,645.07 L604.52,646.6 L607.37,648.22 L610.21,649.92 L613.06,651.7 L615.9,653.58 L618.75,655.54 L621.59,657.6 L624.44,659.76 L627.28,662.01 L630.13,664.36 L632.97,666.81 L635.82,669.37 L638.66,672.03 L641.51,674.8 L644.35,677.68 L647.2,680.67 L650.04,683.77 L652.89,686.99 L655.73,690.33 L658.58,693.79 L661.42,697.37 L664.27,701.07 L667.11,704.9 L669.96,708.86 L672.8,712.95" stroke="#A52A2A" class="cv"/>
<line x1="396" y1="670.6" x2="412.4" y2="670.6" stroke="#E81A1A" class="cv" style="stroke-linecap:butt"/>
<line x1="396" y1="680.5" x2="412.4" y2="680.5" stroke="#1A1AE6" class="cv" style="stroke-linecap:butt"/>
<line x1="396" y1="691" x2="412.4" y2="691" stroke="#1AEE1A" class="cv" style="stroke-linecap:butt"/>
<line x1="396" y1="701" x2="412.4" y2="701" stroke="#A020F0" class="cv" style="stroke-linecap:butt"/>
<line x1="396" y1="711.5" x2="412.4" y2="711.5" stroke="#A52A2A" class="cv" style="stroke-linecap:butt"/>
<line x1="389" y1="508" x2="389" y2="722" stroke="#b3b3b3" stroke-width="2"/>
<line x1="683.5" y1="508" x2="683.5" y2="722" stroke="#707070" stroke-width="1"/>
<line x1="388.5" y1="508.5" x2="684" y2="508.5" stroke="#707070" stroke-width="1"/>
<line x1="388.5" y1="721.5" x2="684" y2="721.5" stroke="#666" stroke-width="1"/>
<line x1="169" y1="0.5" x2="463" y2="0.5" stroke="#e8e8e8" stroke-width="1"/>
<g style="opacity:0.999">
<text x="180.1" y="231" class="tk">0</text>
<text x="248.1" y="231" class="tk">3</text>
<text x="316.1" y="231" class="tk">6</text>
<text x="383.1" y="231" class="tk">9</text>
<text x="451.1" y="231" class="tk">12</text>
<text x="200" y="205.6" class="lg">trajectory 1</text>
<text transform="translate(163.6,108.4) rotate(-90) scale(1,1.22)" class="ty">TyG</text>
<text x="135.8" y="17.1" class="pl" style="font-size:16px">A</text>
<text x="42.1" y="494.2" class="tk">0</text>
<text x="111.1" y="494.2" class="tk">3</text>
<text x="180.1" y="494.2" class="tk">6</text>
<text x="248.1" y="494.2" class="tk">9</text>
<text x="317.1" y="494.2" class="tk">12</text>
<text x="62.3" y="458.6" class="lg">trajectory 1</text>
<text x="62.3" y="468.8" class="lg">trajectory 2</text>
<text transform="translate(24.7,370) rotate(-90) scale(1,1.22)" class="ty">TyG</text>
<text x="0" y="277.9" class="pl" style="font-size:15px">B</text>
<text x="47.1" y="753.7" class="tk">0</text>
<text x="115.1" y="753.7" class="tk">3</text>
<text x="184.1" y="753.7" class="tk">6</text>
<text x="253.1" y="753.7" class="tk">9</text>
<text x="322.1" y="753.7" class="tk">12</text>
<text x="67.3" y="707.6" class="lg">trajectory 1</text>
<text x="67.3" y="717.8" class="lg">trajectory 2</text>
<text x="67.3" y="728" class="lg">trajectory 3</text>
<text transform="translate(28.7,629.9) rotate(-90) scale(1,1.22)" class="ty">TyG</text>
<text x="7.4" y="535.1" class="pl" style="font-size:15px">C</text>
<text x="396.1" y="500.3" class="tk">0</text>
<text x="464.1" y="500.3" class="tk">3</text>
<text x="532.1" y="500.3" class="tk">6</text>
<text x="601.1" y="500.3" class="tk">9</text>
<text x="669.1" y="500.3" class="tk">12</text>
<text x="416.3" y="443.5" class="lg">trajectory 1</text>
<text x="416.3" y="453.9" class="lg">trajectory 2</text>
<text x="416.3" y="463.9" class="lg">trajectory 3</text>
<text x="416.3" y="474.2" class="lg">trajectory 4</text>
<text transform="translate(378.7,377.5) rotate(-90) scale(1,1.22)" class="ty">TyG</text>
<text x="354" y="281.7" class="pl" style="font-size:16.5px">D</text>
<text x="399.1" y="739.5" class="tk">0</text>
<text x="468.1" y="739.5" class="tk">3</text>
<text x="536.1" y="739.5" class="tk">6</text>
<text x="604.1" y="739.5" class="tk">9</text>
<text x="672.1" y="739.5" class="tk">12</text>
<text x="419.7" y="673.9" class="lg">trajectory 1</text>
<text x="419.7" y="683.8" class="lg">trajectory 2</text>
<text x="419.7" y="694.3" class="lg">trajectory 3</text>
<text x="419.7" y="704.3" class="lg">trajectory 4</text>
<text x="419.7" y="714.8" class="lg">trajectory 5</text>
<text transform="translate(383.7,616.7) rotate(-90) scale(1,1.22)" class="ty">TyG</text>
<text x="363.3" y="527.2" class="pl" style="font-size:16px">E</text>
<text x="324.6" y="237.6" class="xl">Follow-up time (months)</text>
</g>
</svg>
</body></html>
